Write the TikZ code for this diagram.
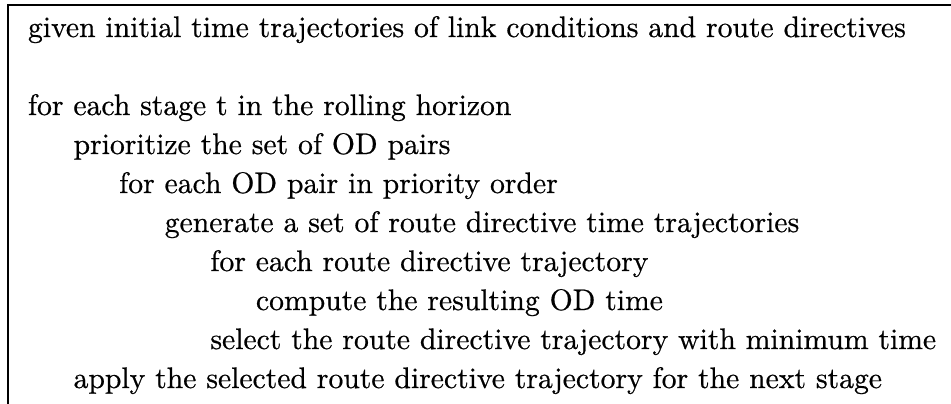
\documentclass[tikz,border=0pt]{standalone}
\usepackage{fontspec}
\newfontfamily\algfont{lmroman10-regular.otf}[FakeBold=0.6]
% size the text so that the three longest lines span their intended widths
\newlength\widthA \newlength\widthB \newlength\widthC
\settowidth\widthA{\algfont\fontsize{10pt}{12pt}\selectfont given initial time trajectories of link conditions and route directives}
\settowidth\widthB{\algfont\fontsize{10pt}{12pt}\selectfont select the route directive trajectory with minimum time}
\settowidth\widthC{\algfont\fontsize{10pt}{12pt}\selectfont apply the selected route directive trajectory for the next stage}
\pgfmathsetmacro\algfs{10*(2412/(\widthA+\widthB+\widthC))}
\tikzset{
  algline/.style={anchor=base west, inner sep=0pt, outer sep=0pt,
    font=\algfont\fontsize{\algfs pt}{\algfs pt}\selectfont},
  frame/.style={line width=1.4pt, line cap=rect}
}
\begin{document}
\begin{tikzpicture}[x=1pt, y=-1pt]
  \useasboundingbox (0,0) rectangle (951,404);
  % open frame: top rule and left rule
  \coordinate (tl) at (8,5);
  \coordinate (tr) at (951,5);
  \coordinate (bl) at (8,404);
  \draw[frame] (bl) -- (tl) -- (tr);
  % algorithm lines, one indent step = 45.6
  \node[algline] (l0) at (28,37) {given initial time trajectories of link conditions and route directives};
  \node[algline] (l1) at (28,115) {for each stage t in the rolling horizon};
  \node[algline] (l2) at (73.6,154) {prioritize the set of OD pairs};
  \node[algline] (l3) at (119.2,193) {for each OD pair in priority order};
  \node[algline] (l4) at (164.8,232) {generate a set of route directive time trajectories};
  \node[algline] (l5) at (210.4,271) {for each route directive trajectory};
  \node[algline] (l6) at (256,310) {compute the resulting OD time};
  \node[algline] (l7) at (210.4,349) {select the route directive trajectory with minimum time};
  \node[algline] (l8) at (73.6,388) {apply the selected route directive trajectory for the next stage};
\end{tikzpicture}
\end{document}
